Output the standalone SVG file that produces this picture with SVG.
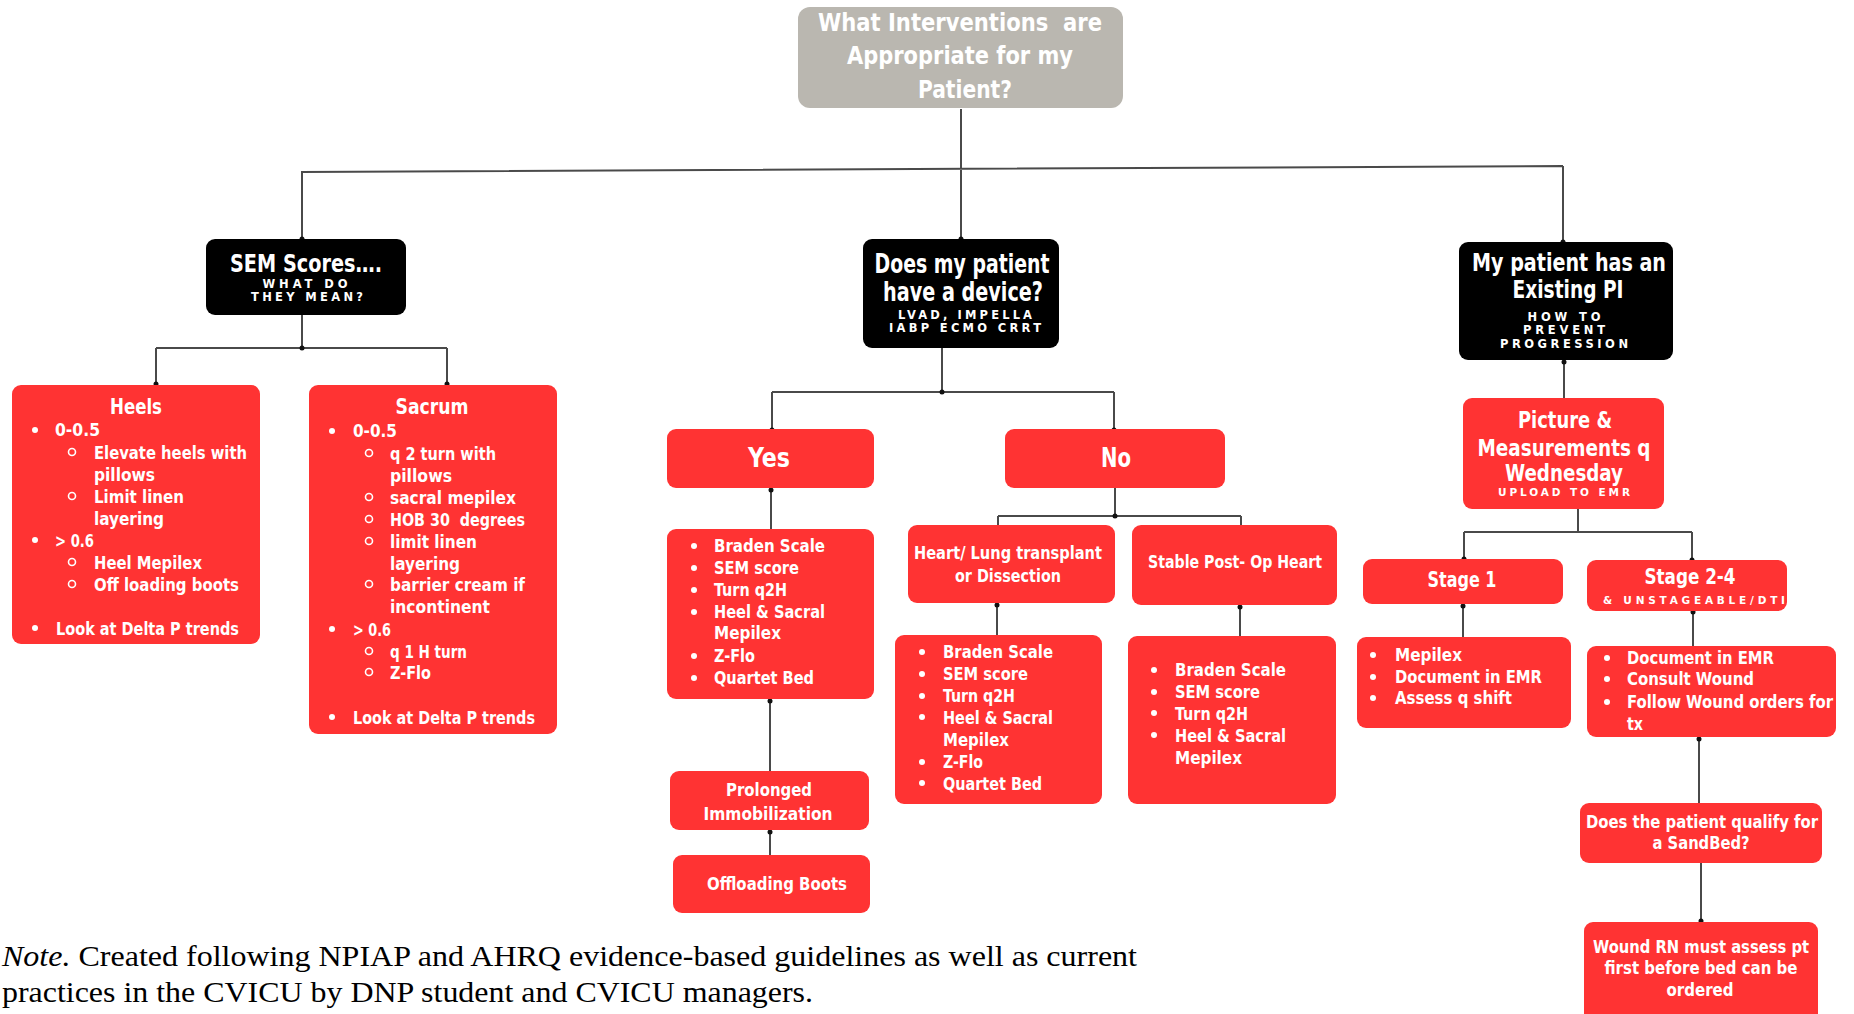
<svg xmlns="http://www.w3.org/2000/svg" width="1854" height="1014" viewBox="0 0 1854 1014">
<defs>
<style>
.red{fill:#ff3333}
.blk{fill:#000}
.gry{fill:#bab7b0}
.t{font-family:"Liberation Sans Narrow","DejaVu Sans Condensed","Roboto Condensed","Liberation Sans",sans-serif;font-weight:bold;fill:#fff}
.c{text-anchor:middle}
.s{font-family:"DejaVu Sans","Liberation Sans",sans-serif;font-weight:bold;fill:#fff;text-anchor:middle}
.cn{fill:none;stroke:#4a4a4a;stroke-width:2}
.dot{fill:#111}
.b{fill:#fff}
.h{fill:none;stroke:#fff;stroke-width:1.6}
.note{font-family:"Liberation Serif","Times New Roman",serif;font-size:30px;fill:#000}
</style>
</defs>
<rect width="1854" height="1014" fill="#fff"/>

<g id="connectors">
<path class="cn" d="M961 109V169M301 172L1563 166M302 172V239M961 169V239M1563 166V242"/>
<path class="cn" d="M302 315V348M156 348H447M156 348V385M447 348V385"/>
<path class="cn" d="M942 348V392M772 392H1114M772 392V429M1114 392V429"/>
<path class="cn" d="M771 488V529M770 699V771M770 830V855"/>
<path class="cn" d="M1115 488V516M998 516H1241M998 516V525M1241 516V525M997 603V635M1240 605V636"/>
<path class="cn" d="M1564 360V398M1578 509V532M1464 532H1692M1464 532V559M1692 532V560M1463 604V637M1693 611V646M1699 737V803M1701 863V922"/>
<circle class="dot" cx="302" cy="239" r="2.5"/><circle class="dot" cx="961" cy="239" r="2.5"/><circle class="dot" cx="1563" cy="242" r="2.5"/>
<circle class="dot" cx="302" cy="348" r="2.5"/><circle class="dot" cx="156" cy="384" r="2.5"/><circle class="dot" cx="447" cy="384" r="2.5"/>
<circle class="dot" cx="942" cy="392" r="2.5"/><circle class="dot" cx="772" cy="430" r="2.5"/><circle class="dot" cx="1114" cy="430" r="2.5"/>
<circle class="dot" cx="771" cy="490" r="2.5"/><circle class="dot" cx="770" cy="701" r="2.5"/><circle class="dot" cx="770" cy="832" r="2.5"/>
<circle class="dot" cx="1115" cy="516" r="2.5"/><circle class="dot" cx="997" cy="605" r="2.5"/><circle class="dot" cx="1240" cy="607" r="2.5"/>
<circle class="dot" cx="1564" cy="362" r="2.5"/><circle class="dot" cx="1464" cy="559" r="2.5"/><circle class="dot" cx="1692" cy="560" r="2.5"/>
<circle class="dot" cx="1463" cy="606" r="2.5"/><circle class="dot" cx="1693" cy="612" r="2.5"/><circle class="dot" cx="1699" cy="739" r="2.5"/><circle class="dot" cx="1701" cy="921" r="2.5"/>
</g>

<g id="root">
<rect class="gry" x="798" y="7" width="325" height="101" rx="12"/>
<text class="t c" font-size="25" x="960" y="31" textLength="284" lengthAdjust="spacingAndGlyphs" xml:space="preserve">What Interventions  are</text>
<text class="t c" font-size="25" x="960" y="64" textLength="226" lengthAdjust="spacingAndGlyphs">Appropriate for my</text>
<text class="t c" font-size="25" x="965" y="98" textLength="94" lengthAdjust="spacingAndGlyphs">Patient?</text>
</g>

<g id="sem">
<rect class="blk" x="206" y="239" width="200" height="76" rx="9"/>
<text class="t c" font-size="24" x="306" y="272" textLength="152" lengthAdjust="spacingAndGlyphs">SEM Scores….</text>
<text class="s" font-size="11.5" x="305" y="288" textLength="85" lengthAdjust="spacing">WHAT DO</text>
<text class="s" font-size="11.5" x="307" y="301" textLength="112" lengthAdjust="spacing">THEY MEAN?</text>
</g>

<g id="device">
<rect class="blk" x="863" y="239" width="196" height="109" rx="9"/>
<text class="t c" font-size="26" x="962" y="273" textLength="175" lengthAdjust="spacingAndGlyphs">Does my patient</text>
<text class="t c" font-size="26" x="963" y="301" textLength="160" lengthAdjust="spacingAndGlyphs">have a device?</text>
<text class="s" font-size="11.5" x="965" y="319" textLength="134" lengthAdjust="spacing">LVAD, IMPELLA</text>
<text class="s" font-size="11.5" x="965" y="332" textLength="152" lengthAdjust="spacing">IABP ECMO CRRT</text>
</g>

<g id="pi">
<rect class="blk" x="1459" y="242" width="214" height="118" rx="9"/>
<text class="t c" font-size="24" x="1569" y="271" textLength="194" lengthAdjust="spacingAndGlyphs">My patient has an</text>
<text class="t c" font-size="24" x="1568" y="298" textLength="111" lengthAdjust="spacingAndGlyphs">Existing PI</text>
<text class="s" font-size="11.5" x="1564" y="321" textLength="73" lengthAdjust="spacing">HOW TO</text>
<text class="s" font-size="11.5" x="1564" y="334" textLength="82" lengthAdjust="spacing">PREVENT</text>
<text class="s" font-size="11.5" x="1564" y="348" textLength="128" lengthAdjust="spacing">PROGRESSION</text>
</g>

<g id="heels">
<rect class="red" x="12" y="385" width="248" height="259" rx="9"/>
<text class="t c" font-size="21" x="136" y="414" textLength="52" lengthAdjust="spacingAndGlyphs">Heels</text>
<circle class="b" cx="35" cy="430" r="3"/><text class="t" font-size="18.5" x="55" y="436" textLength="45" lengthAdjust="spacingAndGlyphs">0-0.5</text>
<circle class="h" cx="72" cy="452" r="3.5"/><text class="t" font-size="18.5" x="94" y="459" textLength="153" lengthAdjust="spacingAndGlyphs">Elevate heels with</text>
<text class="t" font-size="18.5" x="94" y="481" textLength="61" lengthAdjust="spacingAndGlyphs">pillows</text>
<circle class="h" cx="72" cy="496" r="3.5"/><text class="t" font-size="18.5" x="94" y="503" textLength="90" lengthAdjust="spacingAndGlyphs">Limit linen</text>
<text class="t" font-size="18.5" x="94" y="525" textLength="70" lengthAdjust="spacingAndGlyphs">layering</text>
<circle class="b" cx="35" cy="540" r="3"/><text class="t" font-size="18.5" x="55" y="547" textLength="39" lengthAdjust="spacingAndGlyphs">&gt; 0.6</text>
<circle class="h" cx="72" cy="562" r="3.5"/><text class="t" font-size="18.5" x="94" y="569" textLength="108" lengthAdjust="spacingAndGlyphs">Heel Mepilex</text>
<circle class="h" cx="72" cy="584" r="3.5"/><text class="t" font-size="18.5" x="94" y="591" textLength="145" lengthAdjust="spacingAndGlyphs">Off loading boots</text>
<circle class="b" cx="35" cy="628" r="3"/><text class="t" font-size="18.5" x="56" y="635" textLength="183" lengthAdjust="spacingAndGlyphs">Look at Delta P trends</text>
</g>

<g id="sacrum">
<rect class="red" x="309" y="385" width="248" height="349" rx="9"/>
<text class="t c" font-size="21" x="432" y="414" textLength="73" lengthAdjust="spacingAndGlyphs">Sacrum</text>
<circle class="b" cx="332" cy="431" r="3"/><text class="t" font-size="18.5" x="353" y="437" textLength="44" lengthAdjust="spacingAndGlyphs">0-0.5</text>
<circle class="h" cx="369" cy="453" r="3.5"/><text class="t" font-size="18.5" x="390" y="460" textLength="106" lengthAdjust="spacingAndGlyphs">q 2 turn with</text>
<text class="t" font-size="18.5" x="390" y="482" textLength="62" lengthAdjust="spacingAndGlyphs">pillows</text>
<circle class="h" cx="369" cy="497" r="3.5"/><text class="t" font-size="18.5" x="390" y="504" textLength="126" lengthAdjust="spacingAndGlyphs">sacral mepilex</text>
<circle class="h" cx="369" cy="519" r="3.5"/><text class="t" font-size="18.5" x="390" y="526" textLength="135" lengthAdjust="spacingAndGlyphs" xml:space="preserve">HOB 30  degrees</text>
<circle class="h" cx="369" cy="541" r="3.5"/><text class="t" font-size="18.5" x="390" y="548" textLength="87" lengthAdjust="spacingAndGlyphs">limit linen</text>
<text class="t" font-size="18.5" x="390" y="570" textLength="70" lengthAdjust="spacingAndGlyphs">layering</text>
<circle class="h" cx="369" cy="584" r="3.5"/><text class="t" font-size="18.5" x="390" y="591" textLength="135" lengthAdjust="spacingAndGlyphs">barrier cream if</text>
<text class="t" font-size="18.5" x="390" y="613" textLength="100" lengthAdjust="spacingAndGlyphs">incontinent</text>
<circle class="b" cx="332" cy="629" r="3"/><text class="t" font-size="18.5" x="353" y="636" textLength="38" lengthAdjust="spacingAndGlyphs">&gt; 0.6</text>
<circle class="h" cx="369" cy="651" r="3.5"/><text class="t" font-size="18.5" x="390" y="658" textLength="77" lengthAdjust="spacingAndGlyphs">q 1 H turn</text>
<circle class="h" cx="369" cy="672" r="3.5"/><text class="t" font-size="18.5" x="390" y="679" textLength="41" lengthAdjust="spacingAndGlyphs">Z-Flo</text>
<circle class="b" cx="332" cy="717" r="3"/><text class="t" font-size="18.5" x="353" y="724" textLength="182" lengthAdjust="spacingAndGlyphs">Look at Delta P trends</text>
</g>

<g id="yes">
<rect class="red" x="667" y="429" width="207" height="59" rx="9"/>
<text class="t c" font-size="27" x="769" y="467" textLength="42" lengthAdjust="spacingAndGlyphs">Yes</text>
</g>

<g id="no">
<rect class="red" x="1005" y="429" width="220" height="59" rx="9"/>
<text class="t c" font-size="27" x="1116" y="467" textLength="30" lengthAdjust="spacingAndGlyphs">No</text>
</g>

<g id="yes-list">
<rect class="red" x="667" y="529" width="207" height="170" rx="9"/>
<circle class="b" cx="694" cy="546" r="3"/><text class="t" font-size="18.5" x="714" y="552" textLength="111" lengthAdjust="spacingAndGlyphs">Braden Scale</text>
<circle class="b" cx="694" cy="568" r="3"/><text class="t" font-size="18.5" x="714" y="574" textLength="85" lengthAdjust="spacingAndGlyphs">SEM score</text>
<circle class="b" cx="694" cy="590" r="3"/><text class="t" font-size="18.5" x="714" y="596" textLength="73" lengthAdjust="spacingAndGlyphs">Turn q2H</text>
<circle class="b" cx="694" cy="612" r="3"/><text class="t" font-size="18.5" x="714" y="618" textLength="111" lengthAdjust="spacingAndGlyphs">Heel &amp; Sacral</text>
<text class="t" font-size="18.5" x="714" y="639" textLength="67" lengthAdjust="spacingAndGlyphs">Mepilex</text>
<circle class="b" cx="694" cy="656" r="3"/><text class="t" font-size="18.5" x="714" y="662" textLength="41" lengthAdjust="spacingAndGlyphs">Z-Flo</text>
<circle class="b" cx="694" cy="678" r="3"/><text class="t" font-size="18.5" x="714" y="684" textLength="100" lengthAdjust="spacingAndGlyphs">Quartet Bed</text>
</g>

<g id="prolonged">
<rect class="red" x="670" y="771" width="199" height="59" rx="9"/>
<text class="t c" font-size="18.5" x="769" y="796" textLength="86" lengthAdjust="spacingAndGlyphs">Prolonged</text>
<text class="t c" font-size="18.5" x="768" y="820" textLength="129" lengthAdjust="spacingAndGlyphs">Immobilization</text>
</g>

<g id="offloading">
<rect class="red" x="673" y="855" width="197" height="58" rx="9"/>
<text class="t c" font-size="18.5" x="777" y="890" textLength="140" lengthAdjust="spacingAndGlyphs">Offloading Boots</text>
</g>

<g id="heart">
<rect class="red" x="908" y="525" width="207" height="78" rx="9"/>
<text class="t c" font-size="18.5" x="1008" y="559" textLength="188" lengthAdjust="spacingAndGlyphs">Heart/ Lung transplant</text>
<text class="t c" font-size="18.5" x="1008" y="582" textLength="106" lengthAdjust="spacingAndGlyphs">or Dissection</text>
</g>

<g id="stable">
<rect class="red" x="1132" y="525" width="205" height="80" rx="9"/>
<text class="t c" font-size="18.5" x="1235" y="568" textLength="174" lengthAdjust="spacingAndGlyphs">Stable Post- Op Heart</text>
</g>

<g id="heart-list">
<rect class="red" x="895" y="635" width="207" height="169" rx="9"/>
<circle class="b" cx="922" cy="652" r="3"/><text class="t" font-size="18.5" x="943" y="658" textLength="110" lengthAdjust="spacingAndGlyphs">Braden Scale</text>
<circle class="b" cx="922" cy="674" r="3"/><text class="t" font-size="18.5" x="943" y="680" textLength="85" lengthAdjust="spacingAndGlyphs">SEM score</text>
<circle class="b" cx="922" cy="696" r="3"/><text class="t" font-size="18.5" x="943" y="702" textLength="72" lengthAdjust="spacingAndGlyphs">Turn q2H</text>
<circle class="b" cx="922" cy="717" r="3"/><text class="t" font-size="18.5" x="943" y="724" textLength="110" lengthAdjust="spacingAndGlyphs">Heel &amp; Sacral</text>
<text class="t" font-size="18.5" x="943" y="746" textLength="66" lengthAdjust="spacingAndGlyphs">Mepilex</text>
<circle class="b" cx="922" cy="762" r="3"/><text class="t" font-size="18.5" x="943" y="768" textLength="40" lengthAdjust="spacingAndGlyphs">Z-Flo</text>
<circle class="b" cx="922" cy="783" r="3"/><text class="t" font-size="18.5" x="943" y="790" textLength="99" lengthAdjust="spacingAndGlyphs">Quartet Bed</text>
</g>

<g id="stable-list">
<rect class="red" x="1128" y="636" width="208" height="168" rx="9"/>
<circle class="b" cx="1154" cy="670" r="3"/><text class="t" font-size="18.5" x="1175" y="676" textLength="111" lengthAdjust="spacingAndGlyphs">Braden Scale</text>
<circle class="b" cx="1154" cy="692" r="3"/><text class="t" font-size="18.5" x="1175" y="698" textLength="85" lengthAdjust="spacingAndGlyphs">SEM score</text>
<circle class="b" cx="1154" cy="713" r="3"/><text class="t" font-size="18.5" x="1175" y="720" textLength="73" lengthAdjust="spacingAndGlyphs">Turn q2H</text>
<circle class="b" cx="1154" cy="735" r="3"/><text class="t" font-size="18.5" x="1175" y="742" textLength="111" lengthAdjust="spacingAndGlyphs">Heel &amp; Sacral</text>
<text class="t" font-size="18.5" x="1175" y="764" textLength="67" lengthAdjust="spacingAndGlyphs">Mepilex</text>
</g>

<g id="picture">
<rect class="red" x="1463" y="398" width="201" height="111" rx="9"/>
<text class="t c" font-size="23" x="1565" y="428" textLength="94" lengthAdjust="spacingAndGlyphs">Picture &amp;</text>
<text class="t c" font-size="23" x="1564" y="456" textLength="173" lengthAdjust="spacingAndGlyphs">Measurements q</text>
<text class="t c" font-size="23" x="1564" y="481" textLength="118" lengthAdjust="spacingAndGlyphs">Wednesday</text>
<text class="s" font-size="10.5" x="1564" y="496" textLength="132" lengthAdjust="spacing">UPLOAD TO EMR</text>
</g>

<g id="stage1">
<rect class="red" x="1363" y="559" width="200" height="45" rx="9"/>
<text class="t c" font-size="21" x="1462" y="587" textLength="69" lengthAdjust="spacingAndGlyphs">Stage 1</text>
</g>

<g id="stage2">
<rect class="red" x="1587" y="560" width="200" height="51" rx="9"/>
<text class="t c" font-size="21" x="1690" y="584" textLength="91" lengthAdjust="spacingAndGlyphs">Stage 2-4</text>
<text class="s" font-size="10.5" x="1694" y="604" textLength="182" lengthAdjust="spacing">&amp; UNSTAGEABLE/DTI</text>
</g>

<g id="stage1-list">
<rect class="red" x="1357" y="637" width="214" height="91" rx="9"/>
<circle class="b" cx="1373" cy="655" r="3"/><text class="t" font-size="17.5" x="1395" y="661" textLength="67" lengthAdjust="spacingAndGlyphs">Mepilex</text>
<circle class="b" cx="1373" cy="677" r="3"/><text class="t" font-size="17.5" x="1395" y="683" textLength="147" lengthAdjust="spacingAndGlyphs">Document in EMR</text>
<circle class="b" cx="1373" cy="698" r="3"/><text class="t" font-size="17.5" x="1395" y="704" textLength="117" lengthAdjust="spacingAndGlyphs">Assess q shift</text>
</g>

<g id="stage2-list">
<rect class="red" x="1587" y="646" width="249" height="91" rx="9"/>
<circle class="b" cx="1607" cy="658" r="3"/><text class="t" font-size="17.5" x="1627" y="664" textLength="147" lengthAdjust="spacingAndGlyphs">Document in EMR</text>
<circle class="b" cx="1607" cy="679" r="3"/><text class="t" font-size="17.5" x="1627" y="685" textLength="127" lengthAdjust="spacingAndGlyphs">Consult Wound</text>
<circle class="b" cx="1607" cy="702" r="3"/><text class="t" font-size="17.5" x="1627" y="708" textLength="206" lengthAdjust="spacingAndGlyphs">Follow Wound orders for</text>
<text class="t" font-size="17.5" x="1627" y="730" textLength="16" lengthAdjust="spacingAndGlyphs">tx</text>
</g>

<g id="sandbed">
<rect class="red" x="1580" y="803" width="242" height="60" rx="9"/>
<text class="t c" font-size="17.5" x="1702" y="828" textLength="232" lengthAdjust="spacingAndGlyphs">Does the patient qualify for</text>
<text class="t c" font-size="17.5" x="1701" y="849" textLength="97" lengthAdjust="spacingAndGlyphs">a SandBed?</text>
</g>

<g id="wound">
<rect class="red" x="1584" y="922" width="234" height="100" rx="9"/>
<text class="t c" font-size="17.5" x="1701" y="953" textLength="216" lengthAdjust="spacingAndGlyphs">Wound RN must assess pt</text>
<text class="t c" font-size="17.5" x="1701" y="974" textLength="193" lengthAdjust="spacingAndGlyphs">first before bed can be</text>
<text class="t c" font-size="17.5" x="1700" y="996" textLength="67" lengthAdjust="spacingAndGlyphs">ordered</text>
</g>

<g id="note">
<text class="note" x="2" y="966" textLength="1135" lengthAdjust="spacingAndGlyphs"><tspan font-style="italic">Note.</tspan> Created following NPIAP and AHRQ evidence-based guidelines as well as current</text>
<text class="note" x="2" y="1002" textLength="811" lengthAdjust="spacingAndGlyphs">practices in the CVICU by DNP student and CVICU managers.</text>
</g>
</svg>
